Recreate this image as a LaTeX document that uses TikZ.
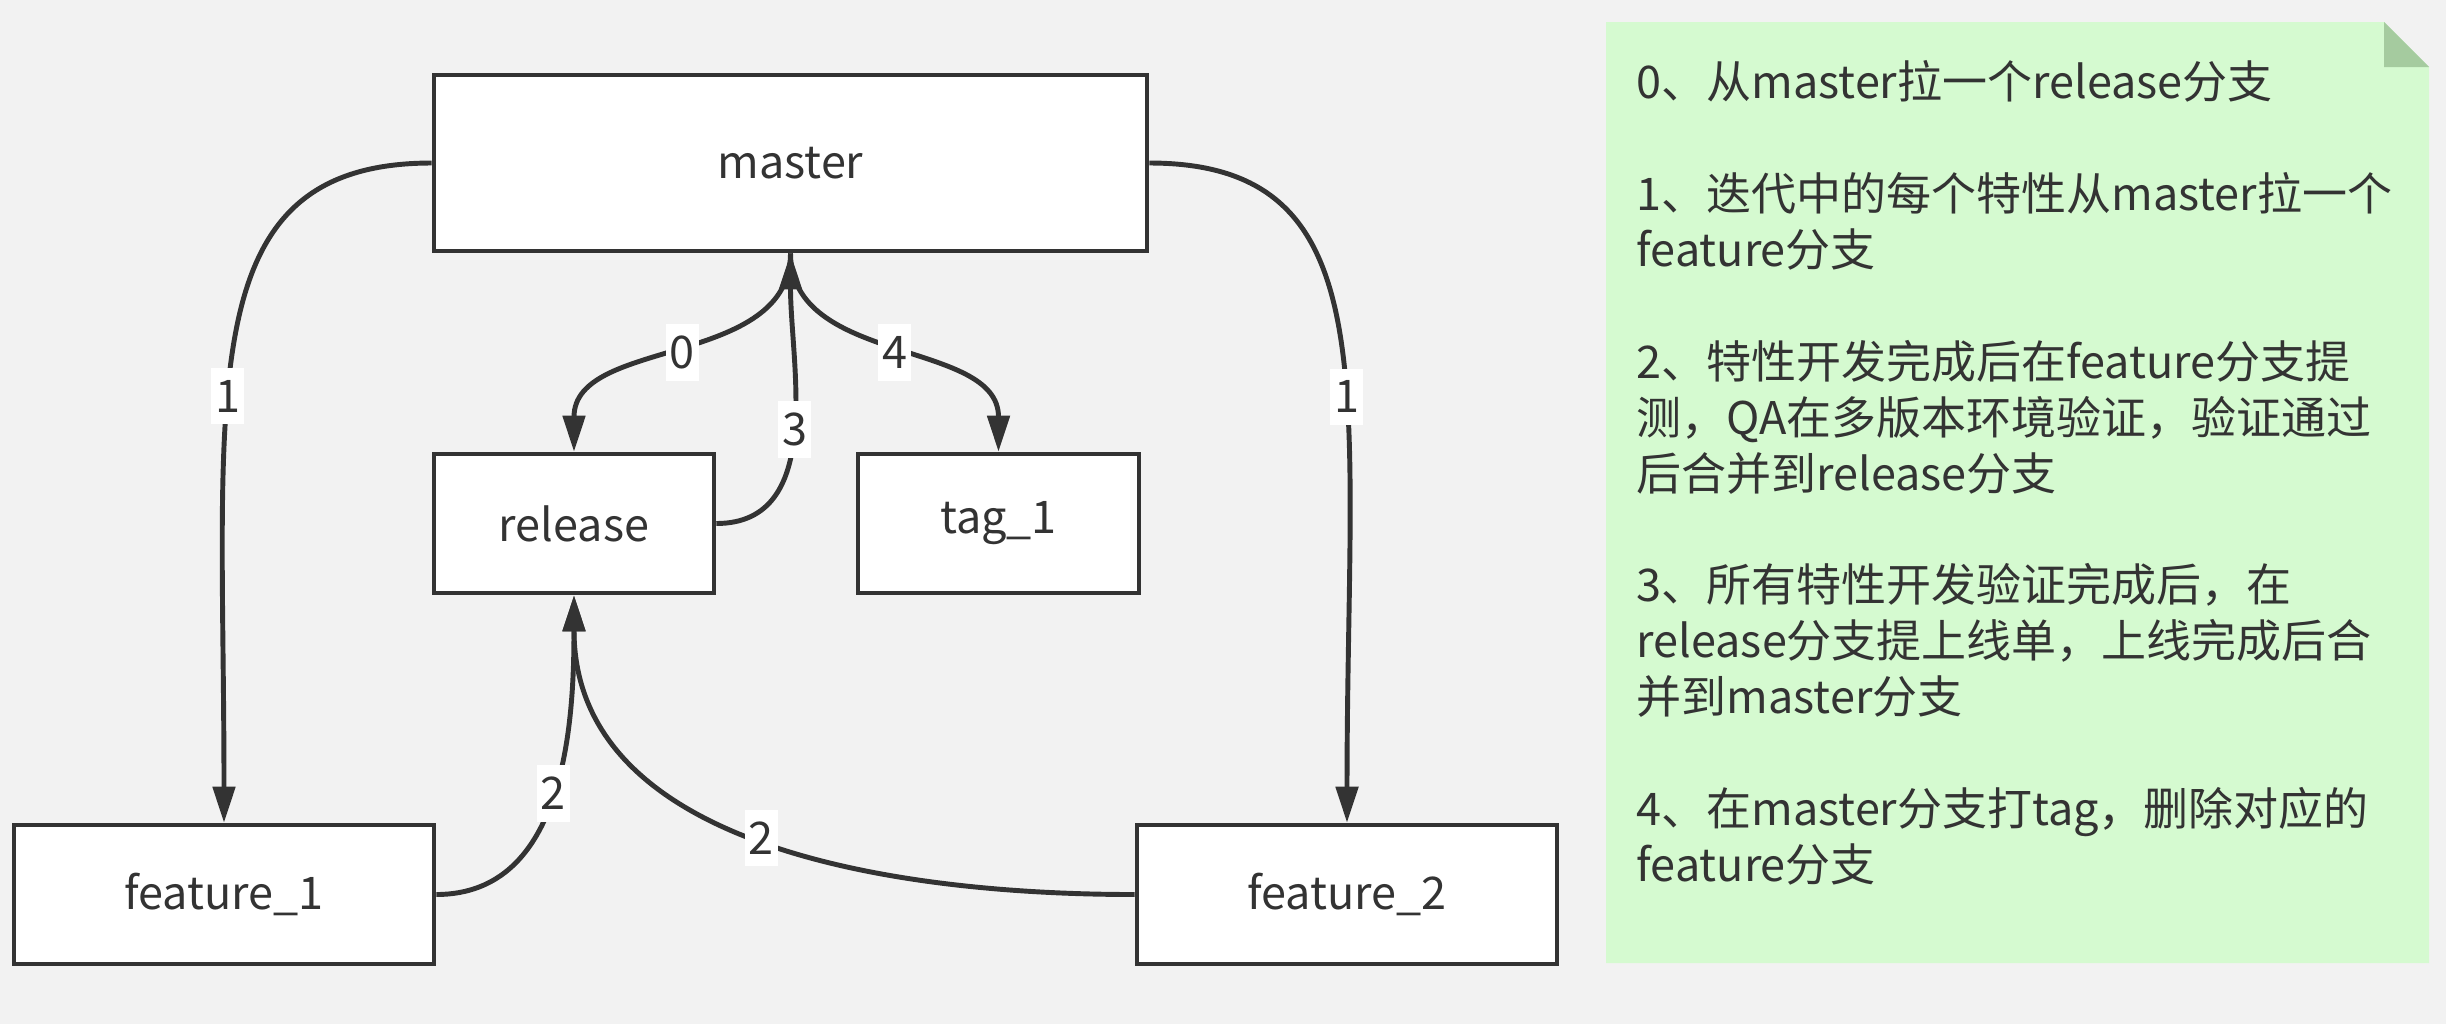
\documentclass[tikz,border=0pt]{standalone}
\usepackage{fontspec}
\setmainfont{Noto Sans CJK SC}
\usetikzlibrary{arrows.meta}

\definecolor{bggray}{HTML}{F2F2F2}
\definecolor{inkdark}{HTML}{333333}
\definecolor{notegreen}{HTML}{D5FAD0}
\definecolor{foldgreen}{HTML}{A5CB9F}

\tikzset{
	branch/.style={draw=inkdark,line width=1.3pt,fill=white,text=inkdark,inner sep=0pt,font=\fontsize{12.8pt}{15pt}\selectfont},
	flow/.style={draw=inkdark,line width=1.4pt,-{Triangle[length=0.36cm,width=0.22cm]}},
	stepno/.style={fill=white,text=inkdark,inner xsep=0.04cm,inner ysep=0.12cm,font=\fontsize{12.8pt}{15pt}\selectfont},
}

\begin{document}
\begin{tikzpicture}[x=1cm,y=1cm]
		\fill[bggray] (0,0) rectangle (24.46,-10.24);
		\useasboundingbox (0,0) rectangle (24.46,-10.24);
		% branches
		\node[branch,minimum width=7.13cm,minimum height=1.76cm] (master) at (7.905,-1.63) {master};
		\node[branch,minimum width=2.80cm,minimum height=1.39cm] (release) at (5.74,-5.235) {release};
		\node[branch,minimum width=2.81cm,minimum height=1.39cm] (tag_1) at (9.985,-5.235) {tag\_1};
		\node[branch,minimum width=4.20cm,minimum height=1.39cm] (feature_1) at (2.24,-8.945) {feature\_1};
		\node[branch,minimum width=4.20cm,minimum height=1.39cm] (feature_2) at (13.47,-8.945) {feature\_2};
		% steps
		\draw[flow] (master.west) to[out=180,in=90,out looseness=0.9,in looseness=1.6] node[stepno,pos=0.59] {1} (feature_1.north);
		\draw[flow] (master.east) to[out=0,in=90,out looseness=0.9,in looseness=1.6] node[stepno,pos=0.59] {1} (feature_2.north);
		\draw[flow] (master.south) to[out=-90,in=90] node[stepno] {0} (release.north);
		\draw[flow] (master.south) to[out=-90,in=90] node[stepno] {4} (tag_1.north);
		\draw[flow] (release.east) to[out=0,in=-90] node[stepno] {3} (master.south);
		\draw[flow] (feature_1.east) to[out=0,in=-90] node[stepno] {2} (release.south);
		\draw[flow] (feature_2.west) to[out=180,in=-90] node[stepno] {2} (release.south);
		% note
		\fill[notegreen] (16.06,-0.22) -- (23.84,-0.22) -- (24.29,-0.67) -- (24.29,-9.63) -- (16.06,-9.63) -- cycle;
		\fill[foldgreen] (23.84,-0.22) -- (23.84,-0.67) -- (24.29,-0.67) -- cycle;
		\node[anchor=north west,inner sep=0pt,align=left,text=inkdark,font=\fontsize{12.8pt}{15.9pt}\selectfont] (steps) at (16.36,-0.60) {%
			0、从master拉一个release分支\\[15.9pt]
			1、迭代中的每个特性从master拉一个\\
			feature分支\\[15.9pt]
			2、特性开发完成后在feature分支提\\
			测，QA在多版本环境验证，验证通过\\
			后合并到release分支\\[15.9pt]
			3、所有特性开发验证完成后，在\\
			release分支提上线单，上线完成后合\\
			并到master分支\\[15.9pt]
			4、在master分支打tag，删除对应的\\
			feature分支};
\end{tikzpicture}
\end{document}
